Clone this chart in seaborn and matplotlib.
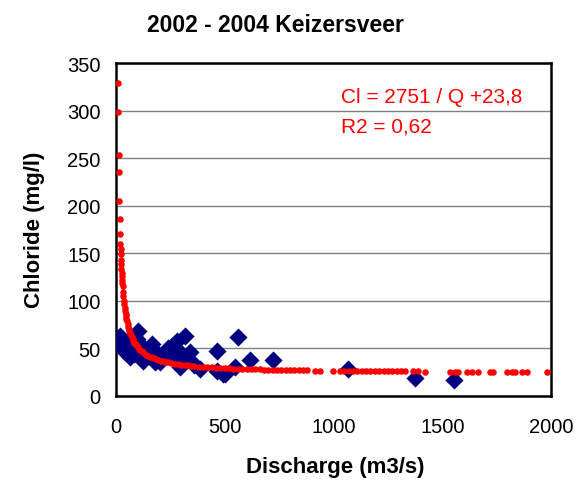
import matplotlib
matplotlib.use("Agg")
import matplotlib.pyplot as plt
import seaborn as sns
import pandas as pd

# Observed data (blue diamonds)
obs_q = [9, 18, 41, 64, 101, 97, 124, 166, 179, 202, 225, 257, 280, 317, 303, 340,
         294, 386, 464, 464, 501, 561, 492, 547, 616, 722, 1067, 1375, 1554,
         20, 30, 50, 75, 110, 140, 150, 190, 210, 240, 260, 270, 320, 350, 360,
         35, 60, 85, 130, 230, 250, 290]
obs_cl = [55, 63, 46, 41, 68, 60, 37, 55, 36, 36, 46, 53, 58, 63, 44, 46,
          30, 28, 47, 26, 23, 62, 23, 30, 38, 38, 28, 19, 17,
          60, 52, 57, 47, 45, 42, 48, 45, 40, 50, 41, 47, 40, 36, 33,
          58, 52, 44, 50, 42, 48, 38]

# Fitted values (red dots): Cl = 2751 / Q + 23.8
fit_q = [9.0, 10, 12, 13, 15.2, 17, 18.8, 20.3, 21, 22, 23, 24, 25, 26, 27, 28, 29, 30,
         32, 34, 36, 38, 40, 42, 44, 46, 48, 50, 53, 56, 59, 62, 65, 68, 72, 76, 80, 85,
         90, 95, 100, 106, 112, 118, 125, 132, 140, 148, 156, 165, 175, 185, 195, 205,
         215, 225, 240, 255, 270, 285, 300, 315, 330, 345, 360, 380, 400, 420, 440, 460,
         480, 500, 520, 540, 560, 580, 600, 620, 640, 660, 680, 700, 720, 740, 760, 780,
         800, 820, 840, 860, 880, 915, 938, 998, 1030, 1050, 1070, 1090, 1110, 1130,
         1150, 1170, 1190, 1210, 1230, 1250, 1270, 1290, 1310, 1330, 1366, 1389, 1421,
         1536, 1559, 1572, 1614, 1637, 1664, 1720, 1733, 1798, 1821, 1834, 1867, 1890, 1982]
fit_cl = [329.5, 298.9, 253.1, 235.4, 204.8, 185.6, 170.1, 159.3, 154.8, 148.8, 143.4,
          138.4, 133.8, 129.6, 125.7, 122.1, 118.7, 115.5, 109.8, 104.7, 100.2, 96.2,
          92.6, 89.3, 86.3, 83.6, 81.1, 78.8, 75.7, 72.9, 70.4, 68.2, 66.1, 64.3, 62.0,
          60.0, 58.2, 56.2, 54.4, 52.8, 51.3, 49.8, 48.4, 47.1, 45.8, 44.6, 43.5, 42.4,
          41.4, 40.5, 39.5, 38.7, 37.9, 37.2, 36.6, 36.0, 35.3, 34.6, 34.0, 33.5, 33.0,
          32.5, 32.1, 31.8, 31.4, 31.0, 30.7, 30.4, 30.1, 29.8, 29.5, 29.3, 29.1, 28.9,
          28.7, 28.5, 28.4, 28.2, 28.1, 28.0, 27.8, 27.7, 27.6, 27.5, 27.4, 27.3, 27.2,
          27.2, 27.1, 27.0, 26.9, 26.8, 26.7, 26.6, 26.5, 26.4, 26.4, 26.3, 26.3, 26.2,
          26.2, 26.2, 26.1, 26.1, 26.0, 26.0, 26.0, 25.9, 25.9, 25.9, 25.8, 25.8, 25.7,
          25.6, 25.6, 25.6, 25.5, 25.5, 25.5, 25.4, 25.4, 25.3, 25.3, 25.3, 25.3, 25.3, 25.2]

x_ticks = [0, 500, 1000, 1500, 2000]
y_ticks = [0, 50, 100, 150, 200, 250, 300, 350]

sns.set_style("white")
plt.rcParams['font.family'] = ['Liberation Sans', 'DejaVu Sans']
plt.rcParams['text.color'] = 'black'
plt.rcParams['axes.labelcolor'] = 'black'
plt.rcParams['xtick.color'] = 'black'
plt.rcParams['ytick.color'] = 'black'

W, H = 578, 481
fig = plt.figure(figsize=(W / 100, H / 100), dpi=100)
ax = fig.add_axes([116 / W, 1 - 397 / H, (551 - 116) / W, (397 - 64) / H])

obs = pd.DataFrame({"Q": obs_q, "Cl": obs_cl})
fit = pd.DataFrame({"Q": fit_q, "Cl": fit_cl})

sns.scatterplot(data=obs, x="Q", y="Cl", ax=ax, marker="D", s=85, color="#000080",
                edgecolor="#000080", linewidth=0, zorder=3)
sns.scatterplot(data=fit, x="Q", y="Cl", ax=ax, marker="o", s=22, color="#FF0000",
                edgecolor="#FF0000", linewidth=0, zorder=4)

ax.set_xlim(0, 2000)
ax.set_ylim(0, 350)
ax.set_xticks(x_ticks)
ax.set_yticks(y_ticks)
ax.set_xticklabels([str(t) for t in x_ticks], fontsize=14.5)
ax.set_yticklabels([str(t) for t in y_ticks], fontsize=14.5)
ax.yaxis.grid(True, color="#808080", linewidth=1)
ax.set_axisbelow(True)
for s in ax.spines.values():
    s.set_color("black")
    s.set_linewidth(1.8)
ax.tick_params(axis="both", direction="out", length=5, width=1.2, color="black")
ax.tick_params(axis="x", pad=10)
ax.tick_params(axis="y", pad=6)

ax.set_xlabel("Discharge (m3/s)", fontsize=16, fontweight="bold")
ax.set_ylabel("Chloride (mg/l)", fontsize=16, fontweight="bold")
ax.xaxis.set_label_coords((335 - 116) / (551 - 116), -(468 - 397) / (397 - 64))
ax.yaxis.set_label_coords(-(116 - 35) / (551 - 116), (397 - 230) / (397 - 64))
ax.xaxis.label.set_va("center")
ax.yaxis.label.set_va("center")
fig.text(275 / W, 1 - 26 / H, "2002 - 2004 Keizersveer", fontsize=16.5,
         fontweight="bold", ha="center", va="center")

ax.text(1035, 315, "Cl = 2751 / Q +23,8", color="#FF0000", fontsize=15, va="center")
ax.text(1035, 284, "R2 = 0,62", color="#FF0000", fontsize=15, va="center")

fig.savefig("out.png", dpi=100)
